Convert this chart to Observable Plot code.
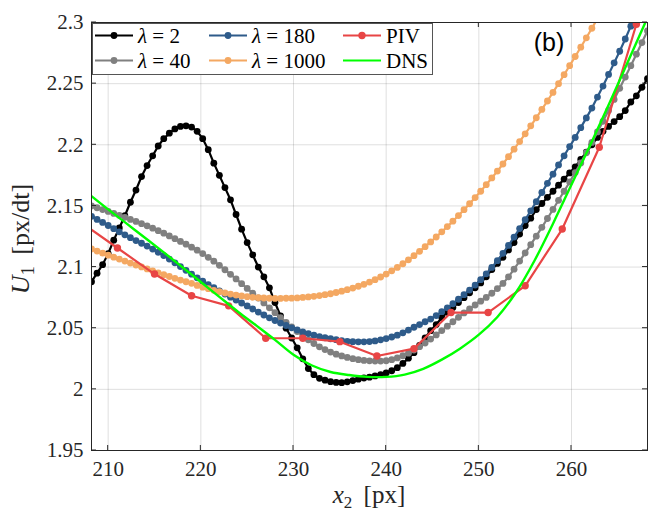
<!DOCTYPE html>
<html><head><meta charset="utf-8">
<script src="https://cdn.jsdelivr.net/npm/d3@7"></script>
<script src="https://cdn.jsdelivr.net/npm/@observablehq/plot@0.6"></script>
<style>body{margin:0;background:#fff;} #chart{width:651px;height:516px;}</style>
</head><body><div id="chart"></div>
<script>
// sample positions x2 [px] of the model curves
const xGrid = [208.2,208.8,209.4,210,210.6,211.2,211.8,212.4,213,213.6,214.2,214.8,215.4,216,216.6,217.2,217.8,218.4,219,219.6,220.2,220.8,221.4,222,222.6,223.2,223.8,224.4,225,225.6,226.2,226.8,227.4,228,228.6,229.2,229.8,230.4,231,231.6,232.2,232.8,233.4,234,234.6,235.2,235.8,236.4,237,237.6,238.2,238.8,239.4,240,240.6,241.2,241.8,242.4,243,243.6,244.2,244.8,245.4,246,246.6,247.2,247.8,248.4,249,249.6,250.2,250.8,251.4,252,252.6,253.2,253.8,254.4,255,255.6,256.2,256.8,257.4,258,258.6,259.2,259.8,260.4,261,261.6,262.2,262.8,263.4,264,264.6,265.2,265.8,266.4,267,267.6,268.2];
const lam2 = [2.088,2.095,2.102,2.111,2.122,2.132,2.142,2.153,2.163,2.174,2.183,2.191,2.199,2.205,2.2095,2.213,2.215,2.2155,2.2145,2.211,2.205,2.196,2.185,2.175,2.165,2.155,2.143,2.131,2.120,2.110,2.100,2.092,2.083,2.071,2.060,2.050,2.042,2.034,2.025,2.017,2.012,2.009,2.0075,2.0063,2.0057,2.0055,2.0062,2.0072,2.0083,2.0093,2.0100,2.0110,2.0120,2.0134,2.0152,2.0177,2.0212,2.0255,2.030,2.036,2.042,2.048,2.053,2.0587,2.063,2.067,2.071,2.075,2.079,2.083,2.087,2.092,2.098,2.103,2.108,2.114,2.120,2.127,2.134,2.140,2.147,2.152,2.157,2.162,2.167,2.172,2.177,2.182,2.188,2.194,2.200,2.206,2.211,2.215,2.219,2.223,2.228,2.235,2.240,2.247,2.254];
const lam40 = [2.1500,2.1485,2.1470,2.1455,2.1439,2.1423,2.1407,2.1390,2.1373,2.1355,2.1337,2.1318,2.1298,2.1277,2.1255,2.1232,2.1210,2.1187,2.1163,2.1138,2.1110,2.1080,2.1048,2.1014,2.0978,2.0941,2.0903,2.0864,2.0825,2.0786,2.0747,2.0707,2.0667,2.0627,2.0587,2.0548,2.0510,2.0473,2.0438,2.0405,2.0375,2.0348,2.0325,2.0305,2.0288,2.0273,2.0261,2.0251,2.0243,2.0237,2.0233,2.0231,2.0231,2.0234,2.0243,2.0257,2.0275,2.0296,2.0321,2.0349,2.0379,2.0411,2.0445,2.0481,2.0517,2.0553,2.0589,2.0625,2.0658,2.0690,2.0721,2.0752,2.0786,2.0824,2.0866,2.0920,2.0983,2.1049,2.1115,2.1183,2.1253,2.1325,2.1397,2.1471,2.1546,2.1620,2.1696,2.1773,2.1852,2.1935,2.2019,2.2105,2.2192,2.2281,2.2371,2.2462,2.2554,2.2647,2.2741,2.2836,2.2932];
const lam180 = [2.1415,2.1390,2.1365,2.1340,2.1314,2.1288,2.1264,2.1240,2.1217,2.1195,2.1172,2.1147,2.1121,2.1094,2.1065,2.1035,2.1004,2.0973,2.0942,2.0912,2.0884,2.0857,2.0831,2.0805,2.0779,2.0754,2.0730,2.0706,2.0682,2.0657,2.0632,2.0608,2.0585,2.0563,2.0542,2.0522,2.0503,2.0486,2.0470,2.0456,2.0443,2.0432,2.0422,2.0414,2.0406,2.0399,2.0393,2.0390,2.0389,2.0389,2.0391,2.0396,2.0405,2.0415,2.0428,2.0443,2.0462,2.0485,2.0508,2.0530,2.0553,2.0575,2.0603,2.0635,2.0667,2.0700,2.0737,2.0774,2.0812,2.0853,2.0897,2.0945,2.0997,2.1052,2.1112,2.1177,2.1245,2.1315,2.1387,2.1460,2.1535,2.1610,2.1685,2.1760,2.1835,2.1910,2.1985,2.2060,2.2140,2.2220,2.2300,2.2390,2.2480,2.2575,2.2670,2.2765,2.2865,2.2970,2.3075,2.3180,2.3290];
const lam1000 = [2.1148,2.1131,2.1114,2.1097,2.1081,2.1065,2.1049,2.1033,2.1017,2.1001,2.0985,2.0969,2.0953,2.0938,2.0923,2.0908,2.0894,2.0880,2.0867,2.0850,2.0836,2.0823,2.0810,2.0798,2.0788,2.0779,2.0771,2.0764,2.0758,2.0753,2.0749,2.0747,2.0745,2.0744,2.0744,2.0745,2.0746,2.0748,2.0752,2.0756,2.0761,2.0767,2.0774,2.0782,2.0792,2.0803,2.0815,2.0828,2.0843,2.0859,2.0877,2.0897,2.0919,2.0943,2.0969,2.0997,2.1027,2.1059,2.1093,2.1129,2.1167,2.1206,2.1246,2.1288,2.1331,2.1375,2.1421,2.1469,2.1518,2.1568,2.1620,2.1674,2.1729,2.1785,2.1843,2.1903,2.1964,2.2026,2.2090,2.2155,2.2221,2.2289,2.2358,2.2428,2.2500,2.2573,2.2647,2.2722,2.2798,2.2875,2.2953,2.3032,2.3112];
const pivX = [207,211,215,219,223,227,231,235,239,243,247,251,255,259,263,267];
const pivU = [2.137,2.1156,2.0943,2.0765,2.0683,2.0418,2.0418,2.0390,2.0273,2.0333,2.0628,2.0628,2.0847,2.1311,2.1980,2.2986];
const dnsX = [208.2,210,212,214,216,218,220,222,224,226,228,230,232,234,236,238,240,242,244,246,248,250,252,254,256,258,260,262,264,266,268.2];
const dnsU = [2.158,2.1472,2.1355,2.1238,2.1120,2.1000,2.0878,2.0756,2.0635,2.0521,2.0405,2.0283,2.0195,2.0142,2.0117,2.0102,2.0102,2.0121,2.0168,2.0243,2.0335,2.0447,2.0592,2.0792,2.1052,2.1355,2.1675,2.1995,2.2325,2.2665,2.3040];
const xTicks = [210,220,230,240,250,260];
const yTicks = [1.95,2,2.05,2.1,2.15,2.2,2.25,2.3];
const names = ["λ = 2","λ = 40","λ = 180","λ = 1000","PIV","DNS"];
const colors = ["#000000","#808080","#2e5b8a","#f4a862","#e84545","#00ff00"];

const serif = "Liberation Serif, DejaVu Serif, serif";
const sans = "Liberation Sans, Arial, sans-serif";
const modelSeries = [lam2, lam40, lam180, lam1000];
const rowsOf = vals => xGrid.map((x,i)=>({x, u: vals[i]})).filter(d => d.u != null);
const pivRows = pivX.map((x,i)=>({x, u: pivU[i]}));
const dnsRows = dnsX.map((x,i)=>({x, u: dnsU[i]}));

const marks = [
  Plot.gridX(xTicks, {stroke:"#262626", strokeOpacity:0.15}),
  Plot.gridY(yTicks, {stroke:"#262626", strokeOpacity:0.15}),
  Plot.axisX({ticks:xTicks, tickSize:0, tickPadding:11, fontSize:21, fontFamily:serif, fill:"#262626", label:null}),
  Plot.axisY({ticks:yTicks, tickSize:0, tickPadding:8, tickFormat:d=>String(d), fontSize:21, fontFamily:serif, fill:"#262626", label:null})
];
modelSeries.forEach((vals,k) => {
  const r = rowsOf(vals);
  marks.push(Plot.line(r, {x:"x", y:"u", stroke:colors[k], strokeWidth:2.2, clip:true}));
  marks.push(Plot.dot(r, {x:"x", y:"u", fill:colors[k], r:3.4, clip:true}));
});
marks.push(Plot.line(pivRows, {x:"x", y:"u", stroke:colors[4], strokeWidth:2.2, clip:true}));
marks.push(Plot.dot(pivRows, {x:"x", y:"u", fill:colors[4], r:3.7, clip:true}));
marks.push(Plot.line(dnsRows, {x:"x", y:"u", stroke:colors[5], strokeWidth:2.4, curve:"catmull-rom", clip:true}));
marks.push(Plot.frame({stroke:"#262626", strokeWidth:1}));

const plot = Plot.plot({
  width:651, height:516, marginLeft:91, marginRight:4, marginTop:22, marginBottom:66,
  style:{fontFamily:serif, fontSize:"21px", background:"#fff"},
  x:{domain:[208.2,268.2], label:null},
  y:{domain:[1.95,2.3], label:null},
  marks
});
document.getElementById("chart").appendChild(plot);

const svg = d3.select(plot);
svg.selectAll("text").attr("font-family", serif);
const sx = plot.scale("x"), sy = plot.scale("y");
const L = 91, R = 647, T = 22, B = 450, tl = 5;
const tg = svg.append("g").attr("stroke","#262626").attr("stroke-width",1);
xTicks.forEach(v => {
  const x = sx.apply(v);
  tg.append("line").attr("x1",x).attr("x2",x).attr("y1",B).attr("y2",B-tl);
  tg.append("line").attr("x1",x).attr("x2",x).attr("y1",T).attr("y2",T+tl);
});
yTicks.forEach(v => {
  const y = sy.apply(v);
  tg.append("line").attr("x1",L).attr("x2",L+tl).attr("y1",y).attr("y2",y);
  tg.append("line").attr("x1",R).attr("x2",R-tl).attr("y1",y).attr("y2",y);
});

// panel tag
svg.append("text").attr("x",549).attr("y",51).attr("text-anchor","middle")
  .attr("font-family",sans).attr("font-size",25).attr("fill","#000").text("(b)");

// axis labels
const xl = svg.append("text").attr("x",(L+R)/2).attr("y",503).attr("text-anchor","middle")
  .attr("font-family",serif).attr("font-size",25).attr("fill","#262626");
xl.append("tspan").attr("font-style","italic").text("x");
xl.append("tspan").attr("font-size",17).attr("dy",5).text("2");
xl.append("tspan").attr("dy",-5).text("\u00A0\u2009[px]");
const yl = svg.append("text").attr("transform","translate(29,239) rotate(-90)").attr("text-anchor","middle")
  .attr("font-family",serif).attr("font-size",26).attr("fill","#262626");
yl.append("tspan").attr("font-style","italic").text("U");
yl.append("tspan").attr("font-size",18).attr("dy",5).text("1");
yl.append("tspan").attr("dy",-5).text("\u00A0\u2009[px/dt]");

// legend
const lg = svg.append("g").attr("font-family",serif).attr("font-size",21).attr("text-anchor","start");
lg.append("rect").attr("x",92.5).attr("y",23.5).attr("width",340).attr("height",51)
  .attr("fill","#fff").attr("stroke","#555").attr("stroke-width",1);
const colX = [95,209,343], rowY = [35.5,60.5];
names.forEach((nm,k) => {
  const cx = colX[Math.floor(k/2)], cy = rowY[k%2];
  lg.append("line").attr("x1",cx).attr("x2",cx+38).attr("y1",cy).attr("y2",cy)
    .attr("stroke",colors[k]).attr("stroke-width",2.2);
  if (k < 5) lg.append("circle").attr("cx",cx+19).attr("cy",cy).attr("r",k===4?3.7:3.4).attr("fill",colors[k]);
  const t = lg.append("text").attr("x",cx+43).attr("y",cy).attr("dy","0.35em")
    .attr("text-anchor","start").attr("font-family",serif).attr("fill","#000");
  if (nm.startsWith("λ")) {
    t.append("tspan").attr("font-style","italic").text("λ");
    t.append("tspan").text(nm.slice(1).replace(/ /g,"\u00A0"));
  } else t.text(nm);
});
</script>
</body></html>
